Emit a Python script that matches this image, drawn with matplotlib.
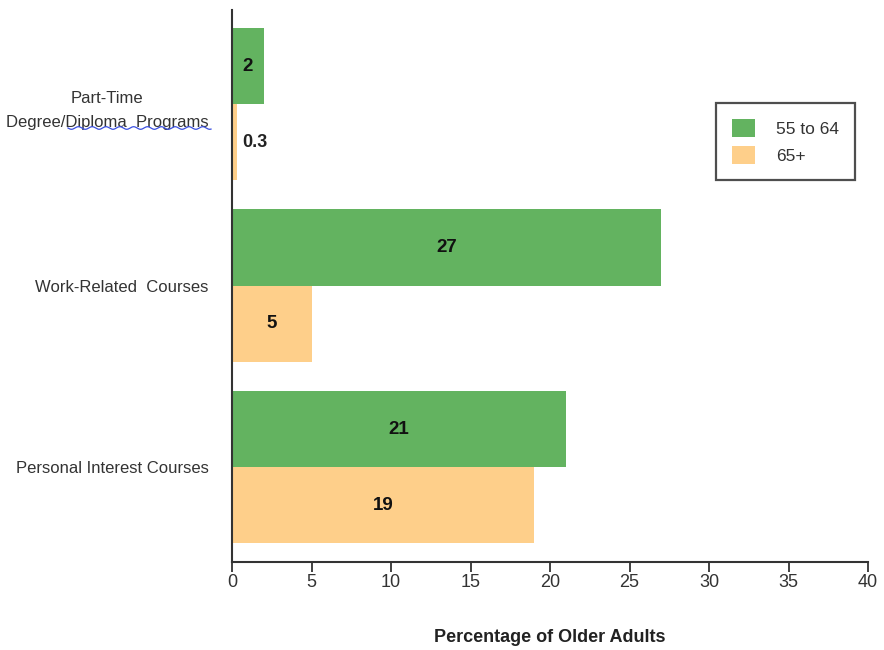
import numpy as np
import matplotlib.pyplot as plt

categories = ["Part-Time\nDegree/Diploma  Programs", "Work-Related  Courses", "Personal Interest Courses"]
age_55_64 = [2, 27, 21]
age_65_plus = [0.3, 5, 19]
series_names = ["55 to 64", "65+"]
x_ticks = [0, 5, 10, 15, 20, 25, 30, 35, 40]

green = "#63b360"
orange = "#fecf8a"

plt.rcParams["font.family"] = ["Liberation Sans", "DejaVu Sans"]

fig = plt.figure(figsize=(8.84, 6.5), dpi=100)
ax = fig.add_axes([232 / 884, 0.1354, (868 - 232) / 884, 0.8492])

y = np.arange(len(categories))
h = 0.419
ax.barh(y - h / 2, age_55_64, height=h, color=green, label=series_names[0])
ax.barh(y + h / 2, age_65_plus, height=h, color=orange, label=series_names[1])

# value labels: centred inside the bar, or just right of a very short one
for vals, off in ((age_55_64, -h / 2), (age_65_plus, h / 2)):
    for yi, v in zip(y, vals):
        txt = f"{v:g}"
        if v < 1:
            ax.text(v + 0.35, yi + off, txt, ha="left", va="center",
                    fontsize=13, fontweight="bold", color="#222222")
        else:
            ax.text(v / 2, yi + off, txt, ha="center", va="center",
                    fontsize=13.5, fontweight="bold", color="#111111")

ax.set_xlim(0, 40)
ax.set_ylim(2.523, -0.518)
ax.set_xticks(x_ticks)
ax.set_yticks(y)
ax.set_yticklabels(categories, fontsize=12, color="#333333",
                   multialignment="center", linespacing=1.75)
ax.tick_params(axis="y", length=0, pad=17)
ax.tick_params(axis="x", length=7, width=1.3, color="#333333", labelsize=13,
               labelcolor="#333333", pad=2)
for side in ("top", "right"):
    ax.spines[side].set_visible(False)
for side in ("left", "bottom"):
    ax.spines[side].set_linewidth(1.5)
    ax.spines[side].set_color("#333333")

ax.set_xlabel("Percentage of Older Adults", fontsize=13, fontweight="bold",
              color="#222222", labelpad=27)

leg = ax.legend(loc="upper left", bbox_to_anchor=(716 / 884, 1 - 103 / 650),
                bbox_transform=fig.transFigure, frameon=True, fancybox=False,
                fontsize=12.5, handlelength=1.3, handleheight=1.2,
                borderpad=0.95, labelspacing=0.5, handletextpad=1.2,
                borderaxespad=0)
leg.get_frame().set_edgecolor("#222222")
leg.get_frame().set_linewidth(1.6)
for t in leg.get_texts():
    t.set_color("#333333")

# wavy underline beneath the long category label
wx = np.linspace(68, 211, 300)
wy = 128 + 1.3 * np.sin((wx - 68) / 2.2)
fig.add_artist(plt.Line2D(wx / 884, 1 - wy / 650, transform=fig.transFigure,
                          color="#3a4fe0", linewidth=0.9))

fig.savefig("out.png", dpi=100)
